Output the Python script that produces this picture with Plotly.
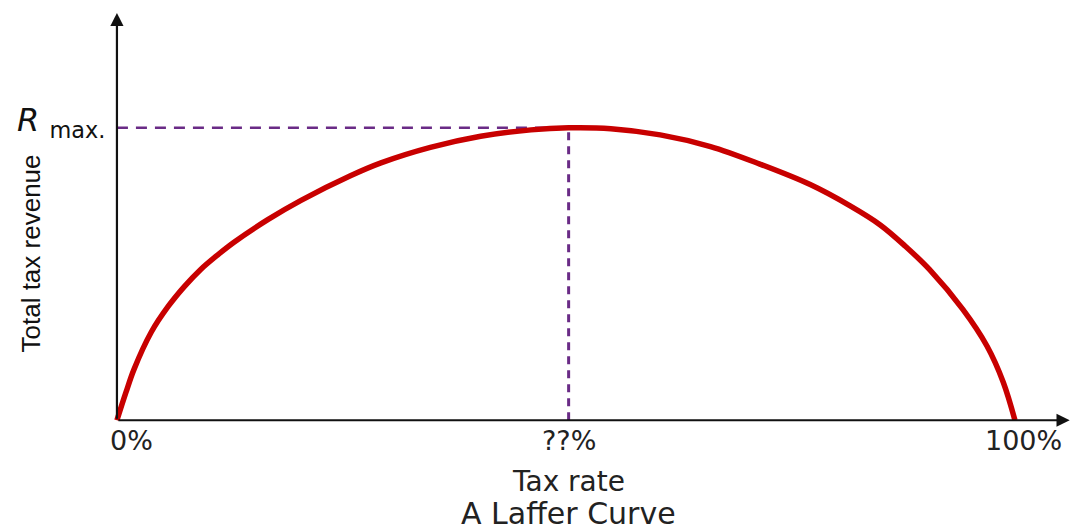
import plotly.graph_objects as go

# Tax rate (%) and total tax revenue (as % of R max)
tax_rate = [0, 1.0, 1.9, 3.8, 5.7, 7.5, 9.3, 11.2, 13.0, 16.8, 20.5, 26.0, 29.4, 34.9, 40.5,
            46.1, 50.3, 55.0, 60.5, 66.1, 71.6, 77.2, 81.6, 85.0, 87.8, 90.5, 94.2, 96.9,
            98.7, 100]
revenue = [0, 9.5, 17.4, 30.0, 38.9, 45.7, 51.5, 56.5, 60.8, 68.6, 75.2, 83.6, 88.0, 93.3,
           97.1, 99.3, 100, 99.7, 97.6, 93.6, 87.6, 80.6, 73.4, 66.8, 59.5, 51.5, 37.9,
           25.3, 13.0, 0]

peak_rate = 50.3
r_max = 100
tick_vals = [0, peak_rate, 100]
tick_text = ["0%", "??%", "100%"]

PX_X = 8.99   # pixels per % on x
PX_Y = 2.93   # pixels per unit on y

fig = go.Figure()

# dashed guides
fig.add_trace(go.Scatter(x=[0, peak_rate], y=[r_max, r_max], mode="lines",
                         line=dict(color="#6a2b86", width=2.5, dash="11px,8px"),
                         hoverinfo="skip", showlegend=False))
fig.add_trace(go.Scatter(x=[peak_rate, peak_rate], y=[0, r_max], mode="lines",
                         line=dict(color="#6a2b86", width=3, dash="8px,6px"),
                         hoverinfo="skip", showlegend=False))

# Laffer curve
fig.add_trace(go.Scatter(x=tax_rate, y=revenue, mode="lines",
                         line=dict(color="#c80000", width=5.5, shape="spline", smoothing=1.0),
                         hoverinfo="skip", showlegend=False))

ann = []
# axes with arrows
ann.append(dict(x=106.1, y=0, ax=0, ay=0, xref="x", yref="y", axref="x", ayref="y",
                text="", showarrow=True, arrowhead=2, arrowsize=1.2, arrowwidth=2.2,
                arrowcolor="#111111"))
ann.append(dict(x=0, y=139.3, ax=0, ay=0, xref="x", yref="y", axref="x", ayref="y",
                text="", showarrow=True, arrowhead=2, arrowsize=1.2, arrowwidth=2.2,
                arrowcolor="#111111"))

tick_font = dict(family="DejaVu Sans", size=27, color="#222222")
shifts = [15, 0, 9]
for v, t, s in zip(tick_vals, tick_text, shifts):
    ann.append(dict(x=v, y=0, xref="x", yref="y", text=t, showarrow=False,
                    xanchor="center", yanchor="middle", xshift=s, yshift=-20,
                    font=tick_font))

ann.append(dict(x=peak_rate, y=0, xref="x", yref="y", text="Tax rate", showarrow=False,
                xanchor="center", yanchor="middle", yshift=-61,
                font=dict(family="DejaVu Sans", size=28, color="#222222")))
ann.append(dict(x=peak_rate, y=0, xref="x", yref="y", text="A Laffer Curve", showarrow=False,
                xanchor="center", yanchor="middle", yshift=-93,
                font=dict(family="DejaVu Sans", size=30, color="#222222")))
ann.append(dict(x=0, y=57, xref="x", yref="y", text="Total tax revenue", showarrow=False,
                textangle=-90, xanchor="center", yanchor="middle", xshift=-86,
                font=dict(family="Liberation Sans", size=26, color="#111111")))
ann.append(dict(x=0, y=r_max, xref="x", yref="y", text="<i>R</i> <sub>max.</sub>",
                showarrow=False, xanchor="right", yanchor="middle", xshift=-10, yshift=6,
                font=dict(family="DejaVu Sans", size=32, color="#111111")))

fig.update_layout(
    width=1078, height=531,
    margin=dict(l=116 - int(3 * PX_X), r=2, t=10, b=110 - int(3 * PX_Y)),
    paper_bgcolor="white", plot_bgcolor="white",
    xaxis=dict(range=[-3, 106.8], visible=False, fixedrange=True),
    yaxis=dict(range=[-3, 140.3], visible=False, fixedrange=True),
    annotations=ann,
)

fig.write_html("out.html", config={"displayModeBar": False},
               post_script="document.body.style.margin='0';document.body.style.padding='0';")
